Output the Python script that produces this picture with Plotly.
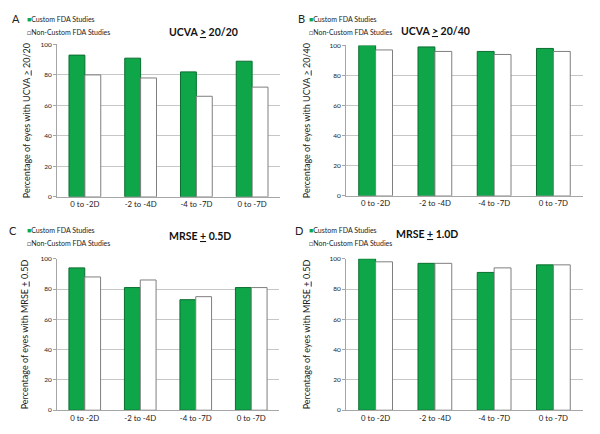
import plotly.graph_objects as go

# categories (myopia ranges) shared by all four panels
ranges = ['0 to -2D', '-2 to -4D', '-4 to -7D', '0 to -7D']

# percentage of eyes
ucva_2020_custom = [93, 91, 82, 89]
ucva_2020_noncustom = [80, 78, 66, 72]
ucva_2040_custom = [100, 99, 96, 98]
ucva_2040_noncustom = [97, 96, 94, 96]
mrse_05_custom = [94, 81, 73, 81]
mrse_05_noncustom = [88, 86, 75, 81]
mrse_10_custom = [100, 97, 91, 96]
mrse_10_noncustom = [98, 97, 94, 96]

GREEN = '#0fa64a'
FONT = 'Lato'

# the page body keeps its default 8px margin, so size the figure to fit inside it
W, H, OFF = 584, 418, 8


def px(x):
    return (x - OFF) / W


def py(y):
    return 1 - (y - OFF) / H


panels = [
    # letter, title, y title, custom, non-custom,
    # plot box (left, right, top, bottom) px, title centre px, letter x, legend x, legend top y, y-title standoff
    ('A', 'UCVA <u>></u> 20/20', 'Percentage of eyes with UCVA <u>></u> 20/20',
     ucva_2020_custom, ucva_2020_noncustom, (57, 280, 41, 196), (167, 28), 10, 25, 15, 8),
    ('B', 'UCVA <u>></u> 20/40', 'Percentage of eyes with UCVA <u>></u> 20/40',
     ucva_2040_custom, ucva_2040_noncustom, (346, 583, 42, 195), (472, 27), 296, 307, 15, 17),
    ('C', 'MRSE <u>+</u> 0.5D', 'Percentage of eyes with MRSE <u>+</u> 0.5D',
     mrse_05_custom, mrse_05_noncustom, (57, 279, 259, 413), (167, 236), 7, 25, 230, 10),
    ('D', 'MRSE <u>+</u> 1.0D', 'Percentage of eyes with MRSE <u>+</u> 0.5D',
     mrse_10_custom, mrse_10_noncustom, (346, 583, 259, 413), (460, 234), 293, 307, 230, 17),
]

fig = go.Figure()
annotations = []

for i, (letter, title, ytitle, custom, noncustom, box, tpos, letter_x, leg_x, leg_y, standoff) in enumerate(panels):
    n = '' if i == 0 else str(i + 1)
    xa, ya = 'x' + n, 'y' + n
    left, right, top, bottom = box

    fig.add_trace(go.Bar(x=ranges, y=custom, name='Custom FDA Studies',
                         marker=dict(color=GREEN, line=dict(color='#0b6e30', width=1)),
                         xaxis=xa, yaxis=ya, showlegend=False))
    fig.add_trace(go.Bar(x=ranges, y=noncustom, name='Non-Custom FDA Studies',
                         marker=dict(color='white', line=dict(color='#7f7f7f', width=1)),
                         xaxis=xa, yaxis=ya, showlegend=False))

    fig.update_layout(**{
        'xaxis' + n: dict(domain=[px(left), px(right)], anchor=ya, showgrid=False,
                          showline=True, linecolor='#a6a6a6', linewidth=1, ticks='',
                          tickfont=dict(size=7.8, color='#222', family=FONT)),
        'yaxis' + n: dict(domain=[py(bottom), py(top)], anchor=xa, range=[0, 100], dtick=20,
                          showgrid=True, gridcolor='#c6c6c6', gridwidth=1,
                          showline=True, linecolor='#a6a6a6', linewidth=1,
                          ticks='outside', ticklen=3, tickcolor='#a6a6a6',
                          tickfont=dict(size=6.5, color='#222', family=FONT),
                          title=dict(text=ytitle, standoff=standoff,
                                     font=dict(size=9, color='#222', family=FONT))),
    })

    # panel title above the plot area
    annotations.append(dict(text='<b>' + title + '</b>', x=px(tpos[0]), y=py(tpos[1]),
                            xref='paper', yref='paper', yanchor='middle', showarrow=False,
                            font=dict(size=10.5, color='#111', family=FONT)))
    # panel letter
    annotations.append(dict(text=letter, x=px(letter_x), y=py(leg_y),
                            xref='paper', yref='paper', xanchor='left', yanchor='middle',
                            showarrow=False, font=dict(size=11, color='#222', family=FONT)))
    # legend drawn as text, like the original Excel one
    annotations.append(dict(text='<span style="color:%s">■</span>Custom FDA Studies' % GREEN,
                            x=px(leg_x), y=py(leg_y), xref='paper', yref='paper',
                            xanchor='left', yanchor='middle', showarrow=False,
                            font=dict(size=7, color='#222', family=FONT)))
    annotations.append(dict(text='<span style="color:#555">□</span>Non-Custom FDA Studies',
                            x=px(leg_x), y=py(leg_y + 13), xref='paper', yref='paper',
                            xanchor='left', yanchor='middle', showarrow=False,
                            font=dict(size=7, color='#222', family=FONT)))

fig.update_layout(
    width=W, height=H,
    margin=dict(l=0, r=0, t=0, b=0),
    paper_bgcolor='white', plot_bgcolor='white',
    barmode='group', bargap=0.43, bargroupgap=0,
    font=dict(family=FONT),
    annotations=annotations,
)

fig.write_html('out.html')
